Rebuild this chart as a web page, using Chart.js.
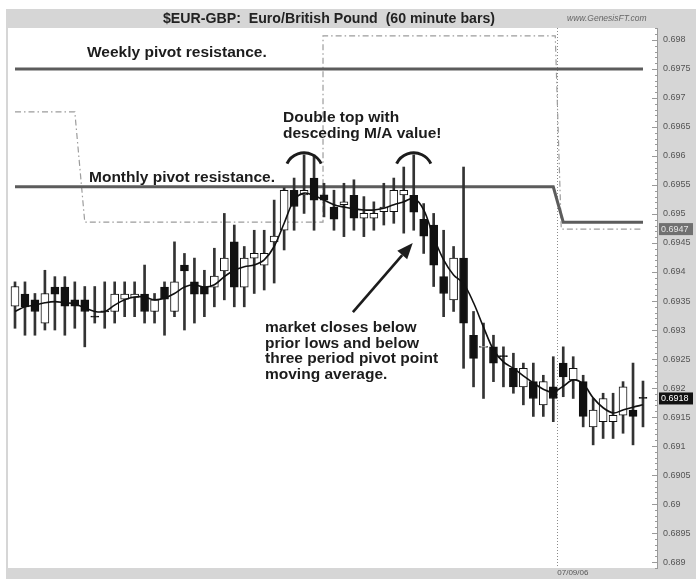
<!DOCTYPE html>
<html><head><meta charset="utf-8">
<script src="https://cdn.jsdelivr.net/npm/chart.js@4/dist/chart.umd.min.js"></script>
<style>html,body{margin:0;padding:0;background:#fff}canvas{display:block}</style>
</head><body>
<canvas id="c" width="696" height="579"></canvas>
<script>
const FONT = '"Liberation Sans", Arial, sans-serif';

// 60 minute bars
const opens  = [0.69341,0.69362,0.69352,0.69312,0.69374,0.69374,0.69352,0.69352,0.69324,0.69333,
                0.69332,0.69353,0.69356,0.69362,0.69332,0.69374,0.69332,0.69412,0.69383,0.69374,
                0.69374,0.69402,0.69452,0.69374,0.69424,0.69412,0.69452,0.69472,0.69541,0.69533,
                0.69562,0.69533,0.69512,0.69516,0.69532,0.69493,0.69493,0.69504,0.69504,0.69533,
                0.69532,0.69491,0.69481,0.69392,0.69352,0.69424,0.69291,0.69270,0.69271,0.69256,
                0.69234,0.69202,0.69211,0.69171,0.69202,0.69243,0.69214,0.69211,0.69133,0.69142,
                0.69142,0.69153,0.69162,0.69184];
const highs  = [0.69383,0.69383,0.69363,0.69403,0.69392,0.69392,0.69383,0.69375,0.69375,0.69383,
                0.69383,0.69383,0.69383,0.69412,0.69363,0.69383,0.69452,0.69432,0.69424,0.69403,
                0.69441,0.69501,0.69481,0.69444,0.69472,0.69472,0.69524,0.69545,0.69562,0.69602,
                0.69602,0.69553,0.69541,0.69553,0.69559,0.69530,0.69521,0.69553,0.69562,0.69581,
                0.69602,0.69518,0.69501,0.69472,0.69444,0.69581,0.69332,0.69312,0.69291,0.69271,
                0.69260,0.69243,0.69243,0.69222,0.69254,0.69271,0.69254,0.69222,0.69182,0.69191,
                0.69191,0.69211,0.69243,0.69212];
const lows   = [0.69303,0.69291,0.69291,0.69300,0.69300,0.69291,0.69303,0.69271,0.69312,0.69303,
                0.69312,0.69323,0.69323,0.69312,0.69312,0.69291,0.69323,0.69300,0.69312,0.69323,
                0.69340,0.69352,0.69340,0.69340,0.69363,0.69369,0.69381,0.69438,0.69472,0.69501,
                0.69472,0.69495,0.69472,0.69461,0.69472,0.69461,0.69472,0.69481,0.69484,0.69467,
                0.69472,0.69432,0.69375,0.69323,0.69332,0.69234,0.69202,0.69182,0.69211,0.69202,
                0.69191,0.69171,0.69151,0.69151,0.69142,0.69185,0.69182,0.69133,0.69102,0.69113,
                0.69113,0.69122,0.69102,0.69133];
const closes = [0.69375,0.69340,0.69332,0.69363,0.69362,0.69341,0.69341,0.69332,0.69322,0.69331,
                0.69362,0.69362,0.69362,0.69332,0.69352,0.69353,0.69383,0.69402,0.69362,0.69362,
                0.69393,0.69424,0.69374,0.69424,0.69432,0.69432,0.69462,0.69541,0.69513,0.69541,
                0.69524,0.69524,0.69491,0.69521,0.69493,0.69501,0.69501,0.69512,0.69541,0.69541,
                0.69503,0.69462,0.69412,0.69363,0.69424,0.69312,0.69251,0.69272,0.69243,0.69254,
                0.69202,0.69234,0.69182,0.69211,0.69182,0.69219,0.69234,0.69151,0.69162,0.69182,
                0.69153,0.69202,0.69151,0.69182];
// three period pivot point moving average
const maValues = [0.69332,0.69340,0.69343,0.69347,0.69349,0.69347,0.69345,0.69338,0.69332,0.69332,
                  0.69343,0.69352,0.69357,0.69357,0.69352,0.69355,0.69363,0.69374,0.69378,0.69374,
                  0.69378,0.69392,0.69403,0.69409,0.69412,0.69421,0.69444,0.69484,0.69524,0.69536,
                  0.69532,0.69524,0.69516,0.69512,0.69509,0.69507,0.69507,0.69510,0.69516,0.69521,
                  0.69527,0.69507,0.69460,0.69421,0.69395,0.69380,0.69347,0.69305,0.69266,0.69245,
                  0.69234,0.69221,0.69209,0.69198,0.69193,0.69203,0.69214,0.69207,0.69183,0.69166,
                  0.69157,0.69162,0.69167,0.69171];
const bars = opens.map((_, i) => i + 1);

// pivot levels (bar position, price)
const weeklyX  = [1, 64];
const weeklyY  = [0.6975, 0.6975];
const monthlyX = [1, 55, 56, 64];
const monthlyY = [0.69547, 0.69547, 0.69486, 0.69486];
const pivotX   = [1, 7, 8, 31.9, 31.9, 55.2, 55.8, 64];
const pivotY   = [0.69676, 0.69676, 0.69486, 0.69486, 0.69807, 0.69807, 0.69474, 0.69474];

const yTickLabels = ['0.698','0.6975','0.697','0.6965','0.696','0.6955','0.695','0.6945','0.694','0.6935',
                     '0.693','0.6925','0.692','0.6915','0.691','0.6905','0.69','0.6895','0.689'];
const dayBreak = 55.4;
const dayLabel = '07/09/06';

const pts = (xs, ys) => xs.map((x, i) => ({x, y: ys[i]}));

function arrow(ctx, x1, y1, x2, y2){
  const a = Math.atan2(y2 - y1, x2 - x1), L = 16, W = 6.5;
  const bx = x2 - L*Math.cos(a), by = y2 - L*Math.sin(a);
  ctx.beginPath(); ctx.moveTo(x1, y1); ctx.lineTo(bx, by); ctx.stroke();
  ctx.beginPath(); ctx.moveTo(x2, y2);
  ctx.lineTo(bx + W*Math.sin(a), by - W*Math.cos(a));
  ctx.lineTo(bx - W*Math.sin(a), by + W*Math.cos(a));
  ctx.closePath(); ctx.fill();
}

const frame = {
  id: 'frame',
  beforeDraw(c){
    const {ctx, chartArea: a, width: w, height: h} = c;
    ctx.save();
    ctx.fillStyle = '#fff'; ctx.fillRect(0, 0, w, h);
    ctx.fillStyle = '#d6d6d6';
    ctx.fillRect(6, 9, w - 6, a.top - 9);
    ctx.fillRect(a.right, 9, w - a.right, h - 9);
    ctx.fillRect(6, a.bottom, w - 6, h - a.bottom);
    ctx.fillRect(6, 9, a.left - 6, h - 9);
    ctx.fillStyle = '#fff'; ctx.fillRect(a.left, a.top, a.right - a.left, a.bottom - a.top);
    ctx.restore();
  },
  afterDraw(c){
    const {ctx, chartArea: a} = c, xs = c.scales.x, ys = c.scales.y;
    ctx.save();
    // right edge ticks
    ctx.strokeStyle = '#9a9a9a'; ctx.lineWidth = 1;
    ctx.beginPath(); ctx.moveTo(a.right - 0.5, a.top); ctx.lineTo(a.right - 0.5, a.bottom); ctx.stroke();
    for (let k = 6889; k <= 6982; k++){
      const y = Math.round(ys.getPixelForValue(k / 10000)) + 0.5, len = k % 5 === 0 ? 6 : 3;
      ctx.beginPath(); ctx.moveTo(a.right - len, y); ctx.lineTo(a.right, y); ctx.stroke();
    }
    // title
    ctx.fillStyle = '#222'; ctx.textBaseline = 'middle';
    ctx.font = 'bold 15px ' + FONT;
    const title = '$EUR-GBP:  Euro/British Pound  (60 minute bars)';
    const tw = ctx.measureText(title).width, sx = 332 / tw;
    ctx.save(); ctx.translate(329, 18.5); ctx.scale(sx, 1);
    ctx.textAlign = 'center'; ctx.fillText(title, 0, 0); ctx.restore();
    ctx.font = 'italic 8.5px ' + FONT; ctx.fillStyle = '#666'; ctx.textAlign = 'left';
    ctx.fillText('www.GenesisFT.com', 567, 18.5);
    // last value boxes
    const box = (v, bg, fg) => {
      const y = ys.getPixelForValue(v);
      ctx.fillStyle = bg; ctx.fillRect(a.right + 1, y - 6, 34, 12);
      ctx.fillStyle = fg; ctx.font = '9px ' + FONT; ctx.textAlign = 'left';
      ctx.fillText(v.toFixed(4), a.right + 3, y + 0.5);
    };
    box(pivotY[pivotY.length - 1], '#707070', '#e6e6e6');
    box(closes[closes.length - 1], '#111', '#fff');
    // annotations
    ctx.fillStyle = '#1c1c1c'; ctx.font = 'bold 15.5px ' + FONT; ctx.textAlign = 'left';
    ctx.fillText('Weekly pivot resistance.', 87, 53);
    ctx.fillText('Monthly pivot resistance.', 89, 178);
    ctx.fillText('Double top with', 283, 118);
    ctx.fillText('desceding M/A value!', 283, 133.5);
    ['market closes below', 'prior lows and below', 'three period pivot point', 'moving average.']
      .forEach((t, i) => ctx.fillText(t, 265, 328 + i * 15.5));
    // double top caps
    ctx.strokeStyle = '#1c1c1c'; ctx.lineWidth = 3;
    [30, 41].forEach(b => {
      const cx = xs.getPixelForValue(b), top = ys.getPixelForValue(highs[b - 1]) - 2, r = 19;
      ctx.beginPath(); ctx.arc(cx, top + r, r, Math.PI + 0.45, 2 * Math.PI - 0.45); ctx.stroke();
    });
    // arrow
    ctx.fillStyle = '#1c1c1c'; ctx.lineWidth = 2.6;
    arrow(ctx, xs.getPixelForValue(34.9), ys.getPixelForValue(0.69331),
               xs.getPixelForValue(40.9), ys.getPixelForValue(0.69450));
    ctx.restore();
  }
};

new Chart(document.getElementById('c'), {
  type: 'bar',
  data: {
    datasets: [
      {type: 'line', data: pts(bars, maValues), borderColor: '#111', borderWidth: 1.6,
       pointRadius: 0, tension: 0.35, order: 0},
      {data: bars.map((x, i) => ({x, y: [opens[i], closes[i]]})),
       backgroundColor: bars.map((_, i) => closes[i] >= opens[i] ? '#fff' : '#111'),
       borderColor: '#111', borderWidth: 1, borderSkipped: false, barThickness: 8,
       minBarLength: 1, grouped: false, order: 1},
      {data: bars.map((x, i) => ({x, y: [lows[i], highs[i]]})), backgroundColor: '#333',
       barThickness: 2, grouped: false, order: 2},
      {type: 'line', data: pts(weeklyX, weeklyY), borderColor: '#5c5c5c', borderWidth: 3,
       pointRadius: 0, order: 4},
      {type: 'line', data: pts(monthlyX, monthlyY), borderColor: '#5c5c5c', borderWidth: 3,
       pointRadius: 0, order: 4},
      {type: 'line', data: pts(pivotX, pivotY), borderColor: '#9c9c9c', borderWidth: 1.2,
       borderDash: [6, 3, 1.5, 3], pointRadius: 0, order: 5}
    ]
  },
  options: {
    responsive: false, animation: false, devicePixelRatio: 1,
    layout: {padding: {left: 8, top: 28, right: 0, bottom: 0}},
    plugins: {legend: {display: false}, tooltip: {enabled: false}},
    scales: {
      x: {type: 'linear', min: 0.2977, max: 65.506, offset: false,
          afterBuildTicks: s => { s.ticks = [{value: dayBreak}]; },
          afterFit: s => { s.height = 11; },
          ticks: {callback: () => dayLabel, align: 'start', autoSkip: false, maxRotation: 0,
                  padding: 0, color: '#555', font: {size: 8, family: FONT}},
          grid: {color: '#8a8a8a', drawTicks: false, offset: false},
          border: {display: false, dash: [1, 2]}},
      y: {type: 'linear', position: 'right', min: 0.688897, max: 0.698207,
          afterBuildTicks: s => { s.ticks = yTickLabels.map(v => ({value: +v})); },
          afterFit: s => { s.width = 38; },
          ticks: {callback: (v, i) => yTickLabels[i], autoSkip: false, padding: 5,
                  color: '#555', font: {size: 9, family: FONT}},
          grid: {display: false, drawTicks: false},
          border: {display: false}}
    }
  },
  plugins: [frame]
});
</script>
</body></html>
